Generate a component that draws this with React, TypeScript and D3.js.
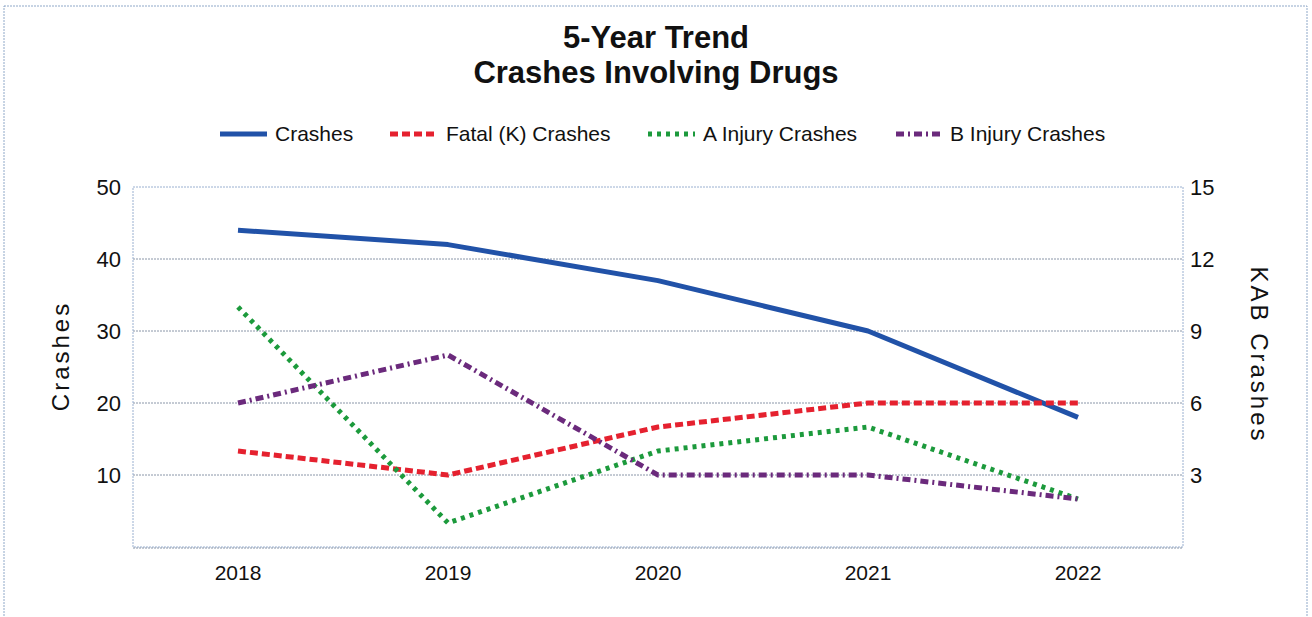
import React from "react";
import * as d3 from "d3";

const years = ["2018", "2019", "2020", "2021", "2022"];
const crashes = [44, 42, 37, 30, 18];
const fatalK = [4, 3, 5, 6, 6];
const aInjury = [10, 1, 4, 5, 2];
const bInjury = [6, 8, 3, 3, 2];
const leftTicks = [10, 20, 30, 40, 50];
const rightTicks = [3, 6, 9, 12, 15];

const W = 1312;
const H = 617;
const plot = { left: 133, right: 1183, top: 187, bottom: 547 };
const font = "'Liberation Sans', Arial, sans-serif";

const series = [
  { name: "Crashes", values: crashes, axis: "left", color: "#2152a8", dash: "", width: 5 },
  { name: "Fatal (K) Crashes", values: fatalK, axis: "right", color: "#e5212f", dash: "8,4", width: 5 },
  { name: "A Injury Crashes", values: aInjury, axis: "right", color: "#1c9a3c", dash: "4,5", width: 5 },
  { name: "B Injury Crashes", values: bInjury, axis: "right", color: "#6b2a7c", dash: "8,4,2,4", width: 5 },
];

const legendPos = [
  { x1: 220, tx: 275 },
  { x1: 390, tx: 446 },
  { x1: 648, tx: 703 },
  { x1: 896, tx: 950 },
];

export default function App() {
  const x = d3.scaleBand().domain(years).range([plot.left, plot.right]);
  const yL = d3.scaleLinear().domain([0, 50]).range([plot.bottom, plot.top]);
  const yR = d3.scaleLinear().domain([0, 15]).range([plot.bottom, plot.top]);
  const cx = (d: string) => (x(d) as number) + x.bandwidth() / 2;

  return (
    <svg width={W} height={H} style={{ position: "absolute", left: 0, top: 0, background: "#fff" }}>
      <rect x={4} y={6} width={1303} height={640} fill="none" stroke="#8fa8c8" strokeWidth={1} strokeDasharray="2,1" />
      <text x={656} y={48} textAnchor="middle" fontFamily={font} fontWeight="bold" fontSize={31} fill="#111">5-Year Trend</text>
      <text x={656} y={83} textAnchor="middle" fontFamily={font} fontWeight="bold" fontSize={31} fill="#111">Crashes Involving Drugs</text>

      {series.map((s, i) => (
        <g key={s.name}>
          <line x1={legendPos[i].x1} x2={legendPos[i].x1 + 47} y1={134} y2={134} stroke={s.color} strokeWidth={5} strokeDasharray={s.dash} />
          <text x={legendPos[i].tx} y={141} fontFamily={font} fontSize={21} fill="#111">{s.name}</text>
        </g>
      ))}

      {leftTicks.slice(0, 4).map((t) => (
        <line key={t} x1={plot.left} x2={plot.right} y1={yL(t)} y2={yL(t)} stroke="#8a96a8" strokeWidth={1} strokeDasharray="2,1" />
      ))}
      <rect x={plot.left} y={plot.top} width={plot.right - plot.left} height={plot.bottom - plot.top} fill="none" stroke="#9ab0d0" strokeWidth={1} strokeDasharray="2,1" />
      <line x1={plot.left} x2={plot.right} y1={plot.bottom + 1} y2={plot.bottom + 1} stroke="#8a96a8" strokeWidth={1} strokeDasharray="2,1" />

      {leftTicks.map((t) => (
        <text key={t} x={121} y={yL(t) + 8} textAnchor="end" fontFamily={font} fontSize={22} fill="#111">{t}</text>
      ))}
      {rightTicks.map((t) => (
        <text key={t} x={1190} y={yR(t) + 8} textAnchor="start" fontFamily={font} fontSize={22} fill="#111">{t}</text>
      ))}
      {years.map((y) => (
        <text key={y} x={cx(y)} y={580} textAnchor="middle" fontFamily={font} fontSize={21} fill="#111">{y}</text>
      ))}

      <text transform="translate(69,356) rotate(-90)" textAnchor="middle" fontFamily={font} fontSize={24} letterSpacing={3} fill="#111">Crashes</text>
      <text transform="translate(1251,355) rotate(90)" textAnchor="middle" fontFamily={font} fontSize={24} letterSpacing={3} fill="#111">KAB  Crashes</text>

      {series.map((s) => {
        const yS = s.axis === "left" ? yL : yR;
        const line = d3.line<number>().x((_, i) => cx(years[i])).y((v) => yS(v));
        return (
          <path key={s.name} d={line(s.values) || ""} fill="none" stroke={s.color} strokeWidth={s.width} strokeDasharray={s.dash} strokeLinecap="butt" strokeLinejoin="round" />
        );
      })}
    </svg>
  );
}
